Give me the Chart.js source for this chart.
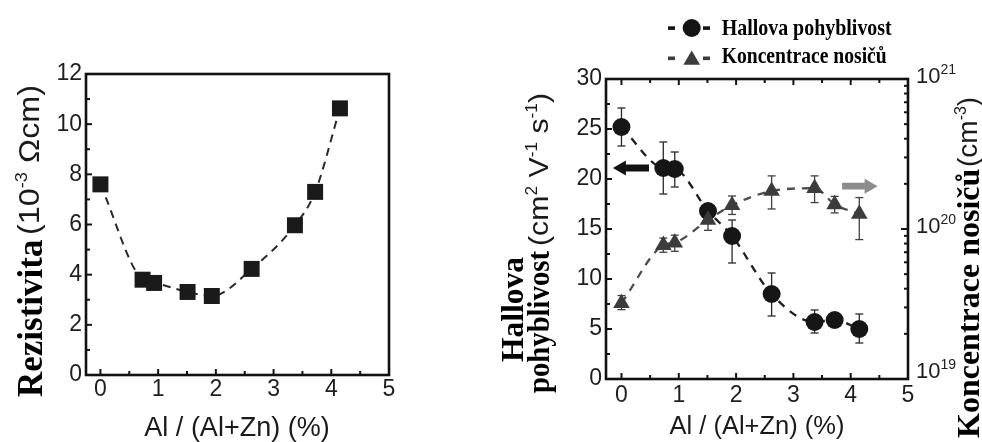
<!DOCTYPE html>
<html>
<head>
<meta charset="utf-8">
<script src="https://cdn.jsdelivr.net/npm/chart.js@4/dist/chart.umd.min.js"></script>
<style>
  html, body { margin: 0; padding: 0; background: #fff; }
  #wrap { position: relative; width: 982px; height: 442px; overflow: hidden; background: #fff; }
  #c1 { position: absolute; left: 0; top: 0; }
  #c2 { position: absolute; left: 490px; top: 0; }
</style>
</head>
<body>
<div id="wrap">
  <canvas id="c1" width="490" height="442"></canvas>
  <canvas id="c2" width="492" height="442"></canvas>
</div>
<script>
// Al / (Al+Zn) content of the films (%)
const alContent = [0, 0.73, 0.93, 1.51, 1.93, 2.62, 3.37, 3.72, 4.15];
// Resistivity (10^-3 Ohm cm)
const resistivity = [7.6, 3.8, 3.67, 3.31, 3.15, 4.23, 5.97, 7.3, 10.63];
// Hall mobility (cm2 V-1 s-1) with error-bar bounds
const hallMobility = [25.2, 21.1, 21.0, 16.8, 14.3, 8.5, 5.7, 5.9, 5.0];
const mobilityLow  = [23.3, 18.5, 19.2, 16.1, 11.6, 6.3, 4.6, 5.3, 3.6];
const mobilityHigh = [27.1, 23.7, 22.7, 17.5, 15.9, 10.6, 6.9, 6.5, 6.5];
// Carrier concentration (cm-3) with error-bar bounds
const carrierConc = [3.2e19, 7.8e19, 8.1e19, 1.15e20, 1.44e20, 1.79e20, 1.87e20, 1.46e20, 1.26e20];
const concLow     = [2.9e19, 7.0e19, 7.1e19, 9.8e19, 1.25e20, 1.36e20, 1.5e20, 1.28e20, 8.5e19];
const concHigh    = [3.6e19, 8.7e19, 9.1e19, 1.35e20, 1.66e20, 2.26e20, 2.26e20, 1.65e20, 1.62e20];
// Tick labels
const xTickValues = [0, 1, 2, 3, 4, 5];
const resistTickValues = [0, 2, 4, 6, 8, 10, 12];
const mobilityTickValues = [0, 5, 10, 15, 20, 25, 30];
const concDecades = [19, 20, 21];
// Axis-pointing arrows (data units)
const mobilityArrow = { from: 0.48, to: -0.15, y: 21.1 };
const concArrow = { from: 3.85, to: 4.47, y: 1.93e20 };

const SANS = '"Liberation Sans", Arial, sans-serif';
const SERIF = '"Liberation Serif", "Times New Roman", serif';
const TICK_FONT = { family: SANS, size: 23 };

// Draws a run of text segments (mixed fonts / superscripts), optionally rotated
// and stretched along the reading direction to a given length.
function drawRich(ctx, segs, o) {
  ctx.save();
  let total = 0;
  const widths = segs.map(s => { ctx.font = s.font; const w = ctx.measureText(s.t).width; total += w; return w; });
  const sx = o.len ? o.len / total : 1;
  ctx.translate(o.x, o.y);
  if (o.rot) ctx.rotate(o.rot);
  ctx.scale(sx, 1);
  let cx = o.align === 'center' ? -total / 2 : 0;
  ctx.textBaseline = 'alphabetic';
  ctx.textAlign = 'left';
  ctx.fillStyle = o.color || '#000';
  segs.forEach((s, i) => { ctx.font = s.font; ctx.fillText(s.t, cx, -(s.rise || 0)); cx += widths[i]; });
  ctx.restore();
}

function line(ctx, x1, y1, x2, y2) { ctx.beginPath(); ctx.moveTo(x1, y1); ctx.lineTo(x2, y2); ctx.stroke(); }

// Box frame with inward tick marks
function frameTicks(cfg) {
  return {
    id: 'frameTicks',
    afterDraw(chart) {
      const { ctx, chartArea: a, scales } = chart;
      ctx.save();
      ctx.strokeStyle = '#141414';
      ctx.lineWidth = 2;
      const xs = scales.x;
      for (let v = 0; v <= 5.001; v += 0.5) {
        const px = xs.getPixelForValue(v);
        const len = Math.abs(v - Math.round(v)) < 1e-6 ? 6 : 4;
        line(ctx, px, a.bottom, px, a.bottom - len);
        if (cfg.topTicks) line(ctx, px, a.top, px, a.top + len);
      }
      const ys = scales.y;
      for (let v = ys.min; v <= ys.max + 1e-6; v += cfg.yMinor) {
        const py = ys.getPixelForValue(v);
        const major = Math.abs(v / cfg.yMajor - Math.round(v / cfg.yMajor)) < 1e-6;
        line(ctx, a.left, py, a.left + (major ? 6 : 4), py);
      }
      if (scales.y2) {
        const y2 = scales.y2;
        for (let d = 19; d <= 21; d++) {
          for (let m = 1; m <= 9; m++) {
            const v = m * Math.pow(10, d);
            if (v > 1e21 * 1.0001) break;
            const py = y2.getPixelForValue(v);
            line(ctx, a.right, py, a.right - (m === 1 ? 7 : 4), py);
          }
        }
      }
      ctx.lineWidth = 2.6;
      ctx.strokeStyle = '#111';
      ctx.strokeRect(a.left, a.top, a.right - a.left, a.bottom - a.top);
      ctx.restore();
    }
  };
}

// Vertical error bars with caps
function errorBars(sets) {
  return {
    id: 'errorBars',
    beforeDatasetsDraw(chart) {
      const ctx = chart.ctx;
      const xs = chart.scales.x;
      sets.forEach(set => {
        const ys = chart.scales[set.axis];
        ctx.save();
        ctx.strokeStyle = set.color;
        ctx.lineWidth = 1.3;
        alContent.forEach((xv, i) => {
          const px = xs.getPixelForValue(xv);
          const lo = ys.getPixelForValue(set.low[i]);
          const hi = ys.getPixelForValue(set.high[i]);
          line(ctx, px, lo, px, hi);
          line(ctx, px - 4, lo, px + 4, lo);
          line(ctx, px - 4, hi, px + 4, hi);
        });
        ctx.restore();
      });
    }
  };
}

function arrow(ctx, x1, x2, y, color) {
  const dir = Math.sign(x2 - x1);
  const head = 13, shaft = 3.4, hw = 7.5;
  ctx.save();
  ctx.fillStyle = color;
  ctx.beginPath();
  ctx.moveTo(x1, y - shaft);
  ctx.lineTo(x2 - dir * head, y - shaft);
  ctx.lineTo(x2 - dir * head, y - hw);
  ctx.lineTo(x2, y);
  ctx.lineTo(x2 - dir * head, y + hw);
  ctx.lineTo(x2 - dir * head, y + shaft);
  ctx.lineTo(x1, y + shaft);
  ctx.closePath();
  ctx.fill();
  ctx.restore();
}

const common = {
  responsive: false,
  animation: false,
  devicePixelRatio: 1,
  plugins: { legend: { display: false }, tooltip: { enabled: false } }
};

// ---------------- Resistivity ----------------
new Chart(document.getElementById('c1'), {
  type: 'scatter',
  data: {
    datasets: [{
      data: alContent.map((x, i) => ({ x, y: resistivity[i] })),
      showLine: true,
      borderColor: '#2a2a2a',
      borderWidth: 2,
      borderDash: [8, 6],
      cubicInterpolationMode: 'monotone',
      pointStyle: 'rect',
      pointRadius: 11.3,
      pointBackgroundColor: '#1a1a1a',
      pointBorderWidth: 0
    }]
  },
  options: {
    ...common,
    layout: { padding: { left: 0, top: 74, right: 101, bottom: 0 } },
    scales: {
      x: {
        type: 'linear', min: -0.25, max: 5,
        grid: { display: false, drawTicks: false }, border: { display: false },
        afterBuildTicks: s => { s.ticks = xTickValues.map(v => ({ value: v })); },
        afterFit: s => { s.height = 67; },
        ticks: { font: TICK_FONT, color: '#1e1e1e', padding: 1, maxRotation: 0 }
      },
      y: {
        type: 'linear', min: 0, max: 12,
        grid: { display: false, drawTicks: false }, border: { display: false },
        afterBuildTicks: s => { s.ticks = resistTickValues.map(v => ({ value: v })); },
        afterFit: s => { s.width = 86; },
        ticks: { font: TICK_FONT, color: '#1e1e1e', padding: 4 }
      }
    }
  },
  plugins: [
    frameTicks({ topTicks: false, yMinor: 1, yMajor: 2 }),
    {
      id: 'titles1',
      afterDraw(chart) {
        const ctx = chart.ctx;
        const up = -Math.PI / 2;
        drawRich(ctx, [{ t: 'Rezistivita', font: 'bold 35px ' + SERIF }], { x: 42, y: 397, rot: up });
        drawRich(ctx, [
          { t: '(10', font: '30px ' + SANS },
          { t: '-3', font: '17px ' + SANS, rise: 12 },
          { t: ' \u03A9cm)', font: '30px ' + SANS }
        ], { x: 39, y: 235, rot: up, len: 150, color: '#1a1a1a' });
        drawRich(ctx, [{ t: 'Al / (Al+Zn) (%)', font: '27px ' + SANS }],
          { x: 237, y: 436, align: 'center', color: '#1a1a1a' });
      }
    }
  ]
});

// ---------------- Hall mobility & carrier concentration ----------------
new Chart(document.getElementById('c2'), {
  type: 'scatter',
  data: {
    datasets: [
      {
        label: 'Koncentrace nosičů',
        yAxisID: 'y2',
        order: 0,
        data: alContent.map((x, i) => ({ x, y: carrierConc[i] })),
        showLine: true,
        borderColor: '#4d4d4d',
        borderWidth: 2.3,
        borderDash: [8, 7],
        cubicInterpolationMode: 'monotone',
        pointStyle: 'triangle',
        pointRadius: 9.6,
        pointBackgroundColor: '#3c3c3c',
        pointBorderWidth: 0
      },
      {
        label: 'Hallova pohyblivost',
        yAxisID: 'y',
        order: 1,
        data: alContent.map((x, i) => ({ x, y: hallMobility[i] })),
        showLine: true,
        borderColor: '#1e1e1e',
        borderWidth: 2.3,
        borderDash: [8, 7],
        cubicInterpolationMode: 'monotone',
        pointStyle: 'circle',
        pointRadius: 9,
        pointBackgroundColor: '#161616',
        pointBorderWidth: 0
      }
    ]
  },
  options: {
    ...common,
    layout: { padding: { left: 0, top: 79, right: 0, bottom: 0 } },
    scales: {
      x: {
        type: 'linear', min: -0.27, max: 5,
        grid: { display: false, drawTicks: false }, border: { display: false },
        afterBuildTicks: s => { s.ticks = xTickValues.map(v => ({ value: v })); },
        afterFit: s => { s.height = 63; },
        ticks: { font: TICK_FONT, color: '#1e1e1e', padding: 3, maxRotation: 0 }
      },
      y: {
        type: 'linear', position: 'left', min: 0, max: 30,
        grid: { display: false, drawTicks: false }, border: { display: false },
        afterBuildTicks: s => { s.ticks = mobilityTickValues.map(v => ({ value: v })); },
        afterFit: s => { s.width = 116; },
        ticks: { font: TICK_FONT, color: '#1e1e1e', padding: 4 }
      },
      y2: {
        type: 'logarithmic', position: 'right', min: 1e19, max: 1e21,
        grid: { display: false, drawTicks: false }, border: { display: false },
        ticks: { display: false },
        afterFit: s => { s.width = 74; }
      }
    }
  },
  plugins: [
    errorBars([
      { axis: 'y', low: mobilityLow, high: mobilityHigh, color: '#2a2a2a' },
      { axis: 'y2', low: concLow, high: concHigh, color: '#404040' }
    ]),
    {
      id: 'arrows',
      afterDatasetsDraw(chart) {
        const { ctx, scales } = chart;
        arrow(ctx, scales.x.getPixelForValue(mobilityArrow.from), scales.x.getPixelForValue(mobilityArrow.to),
          scales.y.getPixelForValue(mobilityArrow.y), '#111');
        arrow(ctx, scales.x.getPixelForValue(concArrow.from), scales.x.getPixelForValue(concArrow.to),
          scales.y2.getPixelForValue(concArrow.y), '#8c8c8c');
      }
    },
    frameTicks({ topTicks: true, yMinor: 2.5, yMajor: 5 }),
    {
      id: 'titles2',
      afterDraw(chart) {
        const { ctx, chartArea: a, scales } = chart;
        const up = -Math.PI / 2;
        // decade labels of the logarithmic axis
        concDecades.forEach(d => {
          let py = scales.y2.getPixelForValue(Math.pow(10, d)) + 4;
          py = Math.min(py, a.bottom - 1);
          drawRich(ctx, [
            { t: '10', font: '22px ' + SANS },
            { t: String(d), font: '14px ' + SANS, rise: 9 }
          ], { x: a.right + 8, y: py, color: '#1e1e1e' });
        });
        // axis titles
        drawRich(ctx, [{ t: 'Hallova', font: 'bold 32px ' + SERIF }], { x: 33, y: 362, rot: up, len: 105 });
        drawRich(ctx, [{ t: 'pohyblivost', font: 'bold 32px ' + SERIF }], { x: 59, y: 393, rot: up, len: 142 });
        drawRich(ctx, [
          { t: '(cm', font: '28px ' + SANS },
          { t: '2', font: '16px ' + SANS, rise: 11 },
          { t: ' V', font: '28px ' + SANS },
          { t: '-1', font: '16px ' + SANS, rise: 11 },
          { t: ' s', font: '28px ' + SANS },
          { t: '-1', font: '16px ' + SANS, rise: 11 },
          { t: ')', font: '28px ' + SANS }
        ], { x: 58, y: 246, rot: up, len: 153, color: '#1a1a1a' });
        drawRich(ctx, [{ t: 'Koncentrace nosičů', font: 'bold 32px ' + SERIF }], { x: 489, y: 438, rot: up });
        drawRich(ctx, [
          { t: '(cm', font: '28px ' + SANS },
          { t: '-3', font: '16px ' + SANS, rise: 11 },
          { t: ')', font: '28px ' + SANS }
        ], { x: 487, y: 167, rot: up, color: '#1a1a1a' });
        drawRich(ctx, [{ t: 'Al / (Al+Zn) (%)', font: '25.5px ' + SANS }],
          { x: 267, y: 434, align: 'center', color: '#1a1a1a' });
        // legend
        const H = Chart.helpers;
        ctx.save();
        ctx.fillStyle = '#141414';
        ctx.fillRect(178, 26.3, 7, 3.6);
        ctx.fillRect(213, 26.3, 7, 3.6);
        ctx.beginPath(); ctx.arc(201.7, 28, 9, 0, Math.PI * 2); ctx.fill();
        ctx.fillStyle = '#3c3c3c';
        ctx.fillRect(178, 56.5, 7, 3.6);
        ctx.fillRect(213, 56.5, 7, 3.6);
        H.drawPoint(ctx, { pointStyle: 'triangle', radius: 9.6, rotation: 0, borderWidth: 0 }, 201.7, 60);
        ctx.restore();
        drawRich(ctx, [{ t: 'Hallova pohyblivost', font: 'bold 23.5px ' + SERIF }], { x: 231.7, y: 35, len: 170 });
        drawRich(ctx, [{ t: 'Koncentrace nosičů', font: 'bold 23.5px ' + SERIF }], { x: 231.7, y: 63.3, len: 165 });
      }
    }
  ]
});
</script>
</body>
</html>
